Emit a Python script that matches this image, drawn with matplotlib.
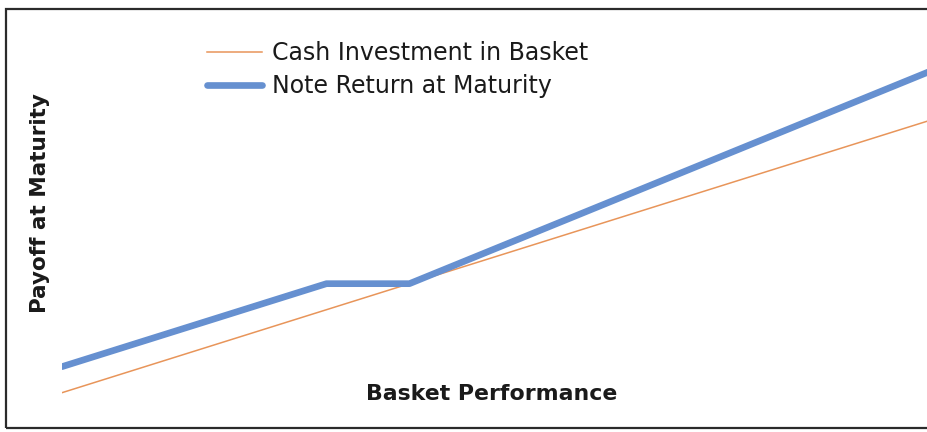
import matplotlib
matplotlib.use("Agg")
import matplotlib.pyplot as plt
from matplotlib.patches import Rectangle

# basket performance (%) and payoff at maturity (%)
basket = [-67, -16, 0, 100]
cash_payoff = [-67, -16, 0, 100]
note_payoff = [-51, 0, 0, 130]

series_labels = ["Cash Investment in Basket", "Note Return at Maturity"]
x_label = "Basket Performance"
y_label = "Payoff at Maturity"

orange = "#E8955A"
blue = "#6690D0"

plt.rcParams["font.family"] = ["DejaVu Sans"]

fig = plt.figure(figsize=(9.28, 4.32), dpi=100)

# outer frame of the picture
frame = Rectangle((6 / 928, 4 / 432), 1.2, 419 / 432, transform=fig.transFigure,
                  fill=False, edgecolor="#2b2b2b", linewidth=1.6, clip_on=False)
fig.patches.append(frame)

ax = fig.add_axes([62 / 928, 4 / 432, 866 / 928, 419 / 432])
ax.plot(basket, cash_payoff, color=orange, linewidth=1.1, label=series_labels[0])
ax.plot(basket, note_payoff, color=blue, linewidth=4.8, solid_capstyle="round",
        label=series_labels[1])
ax.set_xlim(-67, 100)
ax.set_ylim(-88.7, 168.8)
ax.axis("off")

leg = ax.legend(loc="upper left", bbox_to_anchor=(0.1566, 0.946), frameon=False,
                fontsize=17, handlelength=2.33, handletextpad=0.42, labelspacing=0.38,
                borderaxespad=0)
for t in leg.get_texts():
    t.set_color("#1a1a1a")

fig.text(40 / 928, 1 - 203 / 432, y_label, rotation=90, ha="center", va="center",
         fontsize=15.5, fontweight="semibold", color="#1a1a1a")
fig.text(492 / 928, 1 - 394 / 432, x_label, ha="center", va="center",
         fontsize=15.8, fontweight="bold", color="#1a1a1a")

fig.savefig("out.png", dpi=100)
